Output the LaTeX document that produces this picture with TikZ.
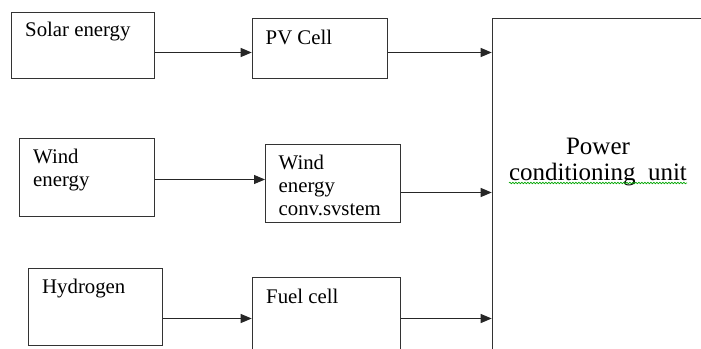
\documentclass[tikz,border=0pt]{standalone}
\usepackage{fontspec}
\setmainfont{Liberation Serif}
\usetikzlibrary{arrows.meta,decorations.pathmorphing}
\begin{document}
\begin{tikzpicture}[x=1pt,y=-1pt,
  box/.style={draw=black!80,line width=1.1pt,rectangle,inner sep=0pt,anchor=north west},
  lbl/.style={anchor=base west,inner sep=0pt,font=\fontsize{20.8}{24}\selectfont,text=black},
  big/.style={anchor=base,inner sep=0pt,font=\fontsize{25}{28}\selectfont,text=black},
  arr/.style={draw=black!85,line width=1.1pt,-{Triangle[length=11pt,width=9pt]}}]
\useasboundingbox (0,0) rectangle (701,348);
\clip (0,0) rectangle (701,348);
% boxes
\node[box,minimum width=143pt,minimum height=66.6pt] (solar) at (10.7,11.7) {};
\node[box,minimum width=135.6pt,minimum height=60pt] (pv) at (251.7,18.3) {};
\node[box,minimum width=134.7pt,minimum height=78pt] (wind) at (19,137.7) {};
\node[box,minimum width=135pt,minimum height=77.4pt] (wecs) at (265,144.3) {};
\node[box,minimum width=134.3pt,minimum height=77.6pt] (hyd) at (27.7,267.7) {};
\node[box,minimum width=148.3pt,minimum height=100pt] (fuel) at (251.7,277.3) {};
\node[box,minimum width=260pt,minimum height=380pt] (pcu) at (491.7,18.3) {};
% labels
\node[lbl] (tsolar) at (25,36) {Solar energy};
\node[lbl] (tpv) at (265.5,44) {PV Cell};
\node[lbl] (twind1) at (33,163) {Wind};
\node[lbl] (twind2) at (33,186) {energy};
\node[lbl] (twecs1) at (278.5,169) {Wind};
\node[lbl] (twecs2) at (278.5,192) {energy};
\node[lbl] (twecs3) at (278.5,215) {conv.svstem};
\node[lbl] (thyd) at (42,293) {Hydrogen};
\node[lbl] (tfuel) at (266,303) {Fuel cell};
\node[big] (tpcu1) at (598,154) {Power};
\node[big] (tpcu2) at (598,180) {conditioning\ \ unit};
\draw[green!65!black,line width=0.6pt,decorate,decoration={snake,amplitude=0.8pt,segment length=3pt}]
  (tpcu2.south west |- 0,183) -- (tpcu2.south east |- 0,183);
% connectors
\draw[arr] (solar.east |- 0,52.5) -- (pv.west |- 0,52.5);
\draw[arr] (pv.east |- 0,52.5) -- (pcu.west |- 0,52.5);
\draw[arr] (wind.east |- 0,179.5) -- (wecs.west |- 0,179.5);
\draw[arr] (wecs.east |- 0,192.5) -- (pcu.west |- 0,192.5);
\draw[arr] (hyd.east |- 0,318.5) -- (fuel.west |- 0,318.5);
\draw[arr] (fuel.east |- 0,318.5) -- (pcu.west |- 0,318.5);
\end{tikzpicture}
\end{document}
